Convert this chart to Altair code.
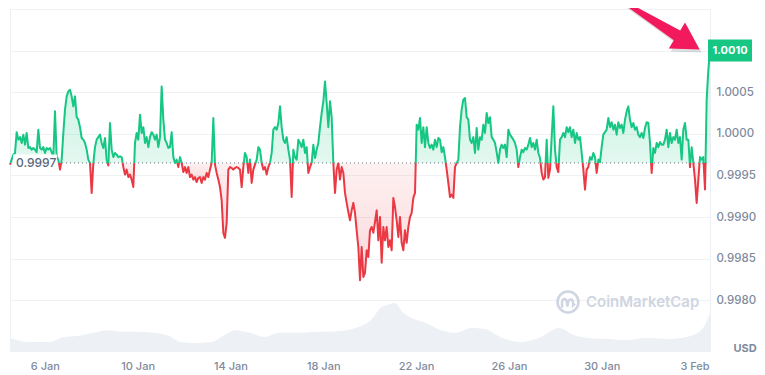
import altair as alt
import pandas as pd

# Price, as deviation from 1.0000 USD in units of 0.00001 USD,
# sampled at a regular step from 4 Jan 12:00 to 3 Feb 16:00.
seg_jan04_jan14 = [-37,-31,-25,-23,2,-7,-4,-11,-1,-13,1,-17,-16,-19,-17,-19,-22,5,-17,-19,-16,-23,-17,-19,-17,-22,-28,27,-28,-31,-43,-31,
                   1,29,45,51,53,45,33,45,20,17,8,-5,-7,-11,-19,-31,-35,-71,-35,-16,-7,-4,-1,-11,-17,-5,-31,-38,13,-19,-28,-23,
                   -25,-28,-27,-28,-40,-49,-43,-52,-49,-55,-64,-11,1,-7,23,1,8,-11,-4,-16,-4,2,-1,-7,-1,-16,-4,57,17,-7,-11,-17,-16,2,
                   -28,-35,-31,-40,-28,-35,-46,-40,-47,-40,-52,-49,-55,-52,-58,-53,-52,-59,-52,-55,-47,-52,-43,-35,19,-37,-47,-55,-64,
                   -80,-119,-125,-107,-43,-40,-41,-43,-41,-40,-41,-43,-64,-40,-23,-28,-47,-31,-59,-43,-37,-31,-16,-19]
seg_jan15_jan24 = [-35,-43,-40,-49,-40,-35,-23,5,8,5,13,33,8,-7,-11,-4,-19,-31,-76,-19,-28,-31,-7,-11,-16,-7,-23,-16,-47,-40,-35,-13,
                   -29,-19,-11,8,25,39,63,37,8,39,20,-35,-71,-43,-35,-55,-40,-47,-71,-83,-94,-104,-92,-83,-95,-116,-136,-176,-136,
                   -172,-167,-140,-148,-116,-112,-119,-106,-92,-128,-100,-155,-112,-128,-112,-136,-128,-140,-77,-88,-104,-124,-100,
                   -131,-140,-116,-131,-112,-100,-95,-77,-71,11,5,19,-11,8,-16,8,-11,-17,-13,-19,-7,-16,-5,-7,-22,-16,-28,-43,-59,
                   -76,-73,-77,-40,-35,-31,8,29,41,43,20,17,-7,-11,-4,-23,7,-19,-4,-7,11,1,25,13,20,-4,-7,-11,-22,-35,-19]
seg_jan25_feb03 = [-13,-17,-13,-28,5,-1,-4,-7,-11,-19,-40,-28,-19,-22,-17,-19,-13,-5,-16,-11,-19,-7,-23,-29,-47,-55,-52,-7,-53,-43,
                   -4,33,-19,-40,-46,-7,-4,1,-4,8,2,8,-4,5,-11,1,-7,-4,-23,-43,-67,-43,-40,-28,-31,-23,-28,-47,-31,-34,-16,-1,2,5,
                   19,8,14,5,11,-1,14,7,11,1,17,27,33,17,8,13,5,8,-1,-4,1,-5,7,14,13,-11,-47,-17,-23,-11,-16,-10,-13,-13,-7,5,-16,
                   1,-11,-4,-7,5,-11,-4,-31,5,13,-7,-7,-40,-16,-35,-55,-83,-55,-28,-31,-28,-67,41,77,100]
base_offset = -35          # reference line 0.99965 (labelled 0.9997)
start_time = "2025-01-04 12:00"
end_time = "2025-02-03 16:00"

vol_times = ["2025-01-04 12:00","2025-01-05 08:00","2025-01-06 04:00","2025-01-06 20:00","2025-01-07 10:00","2025-01-08 02:00",
             "2025-01-08 17:00","2025-01-09 09:00","2025-01-09 23:00","2025-01-10 15:00","2025-01-11 06:00","2025-01-11 21:00",
             "2025-01-12 12:00","2025-01-13 04:00","2025-01-13 18:00","2025-01-14 05:00","2025-01-14 20:00","2025-01-15 12:00",
             "2025-01-16 02:00","2025-01-16 23:00","2025-01-17 20:00","2025-01-18 15:00","2025-01-19 12:00","2025-01-20 04:00",
             "2025-01-20 11:00","2025-01-20 18:00","2025-01-21 02:00","2025-01-21 10:00","2025-01-21 20:00","2025-01-22 10:00",
             "2025-01-23 02:00","2025-01-23 17:00","2025-01-24 09:00","2025-01-24 23:00","2025-01-25 15:00","2025-01-26 12:00",
             "2025-01-27 07:00","2025-01-28 04:00","2025-01-28 19:00","2025-01-29 10:00","2025-01-30 07:00","2025-01-31 02:00",
             "2025-01-31 23:00","2025-02-01 20:00","2025-02-02 15:00","2025-02-03 07:00","2025-02-03 16:00"]
vol_values = [38,26,26,41,44,53,61,56,56,53,47,26,23,26,47,61,53,41,53,53,56,58,70,99,126,134,140,114,96,82,61,53,67,64,41,26,
              38,67,47,38,35,32,38,35,41,61,111]

y_ticks = [0.9980, 0.9985, 0.9990, 0.9995, 1.0000, 1.0005, 1.0010, 1.0015]
x_tick_days = [(1, 6), (1, 10), (1, 14), (1, 18), (1, 22), (1, 26), (1, 30), (2, 3)]

GREEN = "#16c784"
RED = "#ea3943"
GRAY_TXT = "#808a9d"
FONT = "Inter"

# ---- build price table, split into up/down runs at the reference line ----
offsets = seg_jan04_jan14 + seg_jan15_jan24 + seg_jan25_feb03
prices = [1 + o / 1e5 for o in offsets]
base = 1 + base_offset / 1e5
times = pd.date_range(start_time, end_time, periods=len(prices))

rows = []
seg = 0
sgn = lambda v: "up" if v >= base - 1e-12 else "down"
cur = sgn(prices[0])
rows.append((times[0], prices[0], seg, cur))
for i in range(1, len(prices)):
    s = sgn(prices[i])
    if s != cur:
        frac = (base - prices[i - 1]) / (prices[i] - prices[i - 1])
        tc = times[i - 1] + (times[i] - times[i - 1]) * frac
        rows.append((tc, base, seg, cur))
        seg += 1
        cur = s
        rows.append((tc, base, seg, cur))
    rows.append((times[i], prices[i], seg, cur))
df = pd.DataFrame(rows, columns=["t", "p", "seg", "dir"])
df["b"] = base

vol_df = pd.DataFrame({"t": pd.to_datetime(vol_times), "v": vol_values})
last_df = pd.DataFrame({"t": [times[-1]], "p": [prices[-1]], "lbl": [f"{prices[-1]:.4f}"]})
base_df = pd.DataFrame({"p": [base], "lbl": [f"{base:.4f}"]})
one = pd.DataFrame({"a": [0]})

xdom = [alt.DateTime(year=2025, month=1, date=4, hours=12), alt.DateTime(year=2025, month=2, date=3, hours=16)]
xscale = alt.Scale(domain=xdom)
yscale = alt.Scale(domain=[0.99739, 1.0015], nice=False, zero=False)

xaxis = alt.Axis(values=[alt.DateTime(year=2025, month=m, date=d) for m, d in x_tick_days],
                 format="%-d %b", labelColor=GRAY_TXT, labelFontSize=11, labelFont=FONT, labelFontWeight=500,
                 labelPadding=9, domain=False, ticks=False, grid=False, title=None)
yaxis = alt.Axis(orient="right", values=y_ticks, format=".4f",
                 labelExpr="datum.value > 1.0007 ? '' : datum.label",
                 labelColor=GRAY_TXT, labelFontSize=11.5, labelFont=FONT, labelFontWeight=500,
                 labelPadding=6, domain=False, ticks=False, grid=True, gridColor="#eff2f5", title=None)

# volume
volume = alt.Chart(vol_df).mark_area(color="#edf0f4", interpolate="monotone").encode(
    x=alt.X("t:T", scale=xscale, axis=xaxis),
    y=alt.Y("v:Q", scale=alt.Scale(domain=[0, 1000]), axis=None),
)

pbase = alt.Chart(df).encode(x=alt.X("t:T", scale=xscale, axis=xaxis))

green_grad = alt.Gradient(gradient="linear", x1=0, x2=0, y1=0, y2=1, stops=[
    alt.GradientStop(color="rgba(22,199,132,0.20)", offset=0),
    alt.GradientStop(color="rgba(22,199,132,0.12)", offset=1)])
red_grad = alt.Gradient(gradient="linear", x1=0, x2=0, y1=0, y2=1, stops=[
    alt.GradientStop(color="rgba(234,57,67,0.07)", offset=0),
    alt.GradientStop(color="rgba(234,57,67,0.20)", offset=1)])

area_up = pbase.transform_filter(alt.datum.dir == "up").mark_area(color=green_grad).encode(
    y=alt.Y("p:Q", scale=yscale, axis=yaxis), y2="b:Q", detail="seg:N")
area_dn = pbase.transform_filter(alt.datum.dir == "down").mark_area(color=red_grad).encode(
    y=alt.Y("p:Q", scale=yscale), y2="b:Q", detail="seg:N")

base_rule = alt.Chart(base_df).mark_rule(color="#6f7683", strokeDash=[1, 3], strokeWidth=1).encode(
    y=alt.Y("p:Q", scale=yscale), x=alt.value(0), x2=alt.value(700))

lines = pbase.mark_line(strokeWidth=2, strokeJoin="round").encode(
    y=alt.Y("p:Q", scale=yscale),
    color=alt.Color("dir:N", scale=alt.Scale(domain=["up", "down"], range=[GREEN, RED]), legend=None),
    detail="seg:N")

base_box = alt.Chart(base_df).mark_rule(color="white", strokeWidth=17, opacity=0.92).encode(
    y=alt.Y("p:Q", scale=yscale), x=alt.value(3), x2=alt.value(47))
base_txt = alt.Chart(base_df).mark_text(align="left", baseline="middle", font=FONT, fontSize=12,
                                        fontWeight=500, color="#58667e").encode(
    y=alt.Y("p:Q", scale=yscale), x=alt.value(6), text="lbl:N")

tag_box = alt.Chart(last_df).mark_rule(color=GREEN, strokeWidth=22).encode(
    y=alt.Y("p:Q", scale=yscale), x=alt.value(698), x2=alt.value(742))
tag_txt = alt.Chart(last_df).mark_text(align="center", baseline="middle", font=FONT, fontSize=11,
                                       fontWeight=700, color="white").encode(
    y=alt.Y("p:Q", scale=yscale), x=alt.value(720), text="lbl:N")

price_layers = alt.layer(area_up, area_dn, base_rule, lines, base_box, base_txt, tag_box, tag_txt)

# decorations
arrow_path = ("M -0.95 -0.54 L 0.295 0.355 L 0.17 0.56 L 0.94 0.59 "
              "L 0.575 -0.085 L 0.455 0.11 L -0.905 -0.615 Z")
arrow_shadow = alt.Chart(one).mark_point(shape=arrow_path, size=6400, filled=True, color="#000000",
                                         opacity=0.13, strokeWidth=0).encode(
    x=alt.value(654), y=alt.value(20))
arrow = alt.Chart(one).mark_point(shape=arrow_path, size=6400, filled=True, color="#f3195d",
                                  opacity=1, strokeWidth=0).encode(
    x=alt.value(652), y=alt.value(17))

logo_ring = alt.Chart(one).mark_point(shape="circle", size=440, filled=False, color="#cfd5e1",
                                      strokeWidth=2.6, opacity=1).encode(x=alt.value(558), y=alt.value(293))
logo_wave = alt.Chart(one).mark_point(
    shape="M -0.5 0.4 L -0.5 0.0 C -0.5 -0.45 -0.1 -0.45 -0.08 0.05 L -0.05 0.3 C 0 -0.45 0.42 -0.45 0.42 0.05 L 0.42 0.2 L 0.58 0.05",
    size=576, filled=False, color="#cfd5e1", strokeWidth=2.4, opacity=1).encode(x=alt.value(558), y=alt.value(294))
logo_txt = alt.Chart(one).mark_text(text="CoinMarketCap", align="left", baseline="middle", font=FONT,
                                    fontSize=15, fontWeight=600, color="#cfd5e1").encode(
    x=alt.value(576), y=alt.value(293))
usd_txt = alt.Chart(one).mark_text(text="USD", align="center", baseline="middle", font=FONT,
                                   fontSize=11, fontWeight=700, color=GRAY_TXT).encode(
    x=alt.value(735), y=alt.value(340))

chart = alt.layer(
    volume, logo_ring, logo_wave, logo_txt, price_layers, arrow_shadow, arrow, usd_txt
).resolve_scale(y="independent").properties(
    width=700, height=342,
    padding={"left": 2, "top": 1, "right": 47, "bottom": 24},
    autosize=alt.AutoSizeParams(type="none"),
    background="white",
).configure_view(stroke="#eceff3")

chart.save("out.html", embed_options={"renderer": "svg", "actions": False})
